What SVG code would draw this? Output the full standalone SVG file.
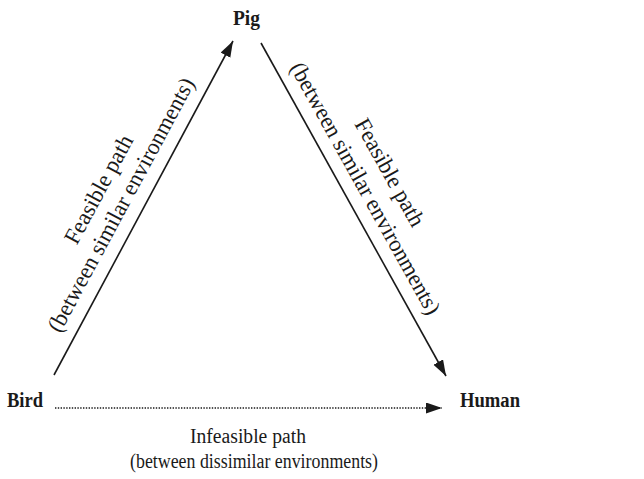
<svg xmlns="http://www.w3.org/2000/svg" width="644" height="479" viewBox="0 0 644 479">
<style>
.node{font-family:"Liberation Serif","Times New Roman",serif;font-weight:bold;font-size:20px;fill:#1a1a1a}
.lbl{font-family:"Liberation Serif","Times New Roman",serif;font-size:20px;fill:#1a1a1a;text-anchor:middle}
.rot{font-family:"Liberation Serif","Times New Roman",serif;font-size:23px;fill:#1a1a1a;text-anchor:middle}
.edge{stroke:#1a1a1a;stroke-width:1.6;fill:none}
.dot{stroke:#1a1a1a;stroke-width:1.4;fill:none;stroke-dasharray:1.4 1.4}
</style>
<defs>
<marker id="ah" markerUnits="userSpaceOnUse" markerWidth="18" markerHeight="12" refX="16" refY="5.5" orient="auto">
<path d="M0,0 L16,5.5 L0,11 z" fill="#1a1a1a"/>
</marker>
</defs>
<rect width="644" height="479" fill="#ffffff"/>
<g id="connectors">
<line class="edge" x1="54" y1="375" x2="233" y2="41" marker-end="url(#ah)"/>
<line class="edge" x1="261" y1="43" x2="446" y2="376" marker-end="url(#ah)"/>
<line class="dot" x1="55" y1="408" x2="442" y2="408" marker-end="url(#ah)"/>
<g transform="translate(121.5,205) rotate(-61.7)">
<text class="rot" x="3" y="-20" textLength="120" lengthAdjust="spacingAndGlyphs">Feasible path</text>
<text class="rot" x="0" y="7" textLength="285" lengthAdjust="spacingAndGlyphs">(between similar environments)</text>
</g>
<g transform="translate(365,188.5) rotate(60.9)">
<text class="rot" x="-2" y="-22" textLength="120" lengthAdjust="spacingAndGlyphs">Feasible path</text>
<text class="rot" x="0" y="7" textLength="285" lengthAdjust="spacingAndGlyphs">(between similar environments)</text>
</g>
<text class="lbl" x="248" y="443" textLength="116" lengthAdjust="spacingAndGlyphs">Infeasible path</text>
<text class="lbl" x="254" y="468" textLength="248" lengthAdjust="spacingAndGlyphs">(between dissimilar environments)</text>
</g>
<g id="pig"><text class="node" x="233" y="25" textLength="27" lengthAdjust="spacingAndGlyphs">Pig</text></g>
<g id="bird"><text class="node" x="7" y="407" textLength="36" lengthAdjust="spacingAndGlyphs">Bird</text></g>
<g id="human"><text class="node" x="460" y="407" textLength="60" lengthAdjust="spacingAndGlyphs">Human</text></g>
</svg>
